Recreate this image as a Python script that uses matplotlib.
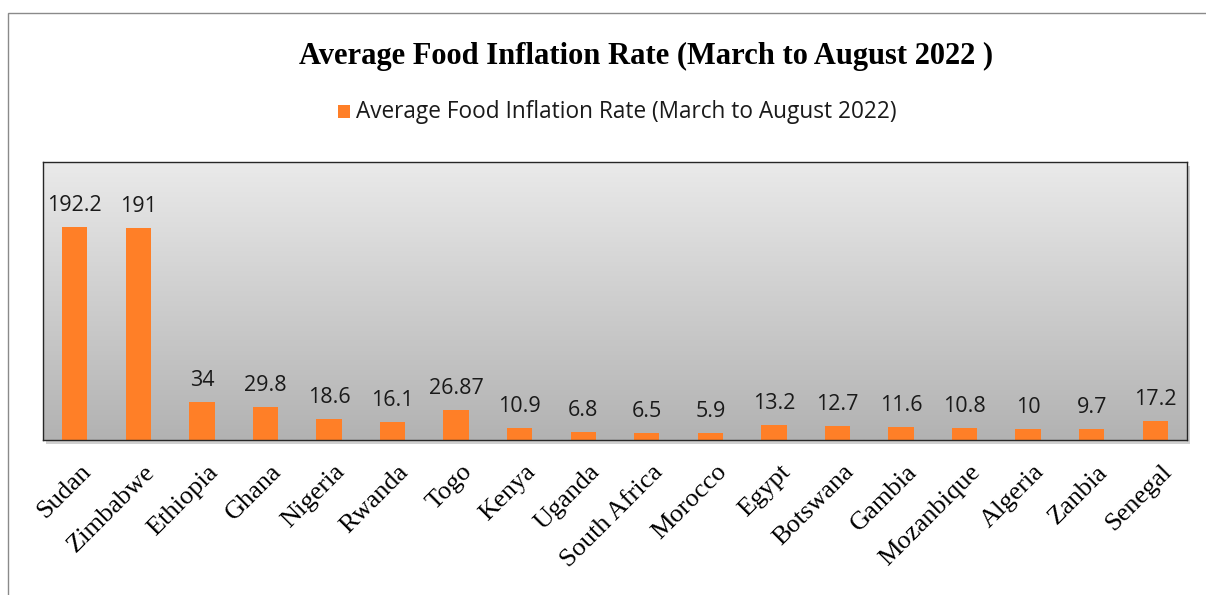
import numpy as np
import matplotlib
matplotlib.use('Agg')
import matplotlib.pyplot as plt
from matplotlib.patches import Rectangle
from matplotlib.transforms import ScaledTranslation

countries = ['Sudan', 'Zimbabwe', 'Ethiopia', 'Ghana', 'Nigeria', 'Rwanda', 'Togo',
             'Kenya', 'Uganda', 'South Africa', 'Morocco', 'Egypt', 'Botswana',
             'Gambia', 'Mozanbique', 'Algeria', 'Zanbia', 'Senegal']
rates = [192.2, 191, 34, 29.8, 18.6, 16.1, 26.87, 10.9, 6.8, 6.5, 5.9, 13.2,
         12.7, 11.6, 10.8, 10, 9.7, 17.2]
rate_labels = ['192.2', '191', '34', '29.8', '18.6', '16.1', '26.87', '10.9', '6.8',
               '6.5', '5.9', '13.2', '12.7', '11.6', '10.8', '10', '9.7', '17.2']
series_name = 'Average Food Inflation Rate (March to August 2022)'
title = 'Average Food Inflation Rate (March to August 2022 )'

W, H = 1206, 595
bar_color = '#ff7f27'

fig = plt.figure(figsize=(W / 100, H / 100), dpi=100)
fig.patch.set_facecolor('white')

# outer frame (only top and left edges visible in the crop)
fig.patches.append(Rectangle((8 / W, -0.1), 1.2, 1 - 13 / H + 0.1,
                             transform=fig.transFigure, fill=False,
                             edgecolor='#8a8a8a', lw=1.0, zorder=-2))

# plot area
left, right, top, bottom = 43, 1187, 162, 440

# drop shadow behind the plot area
fig.patches.append(Rectangle(((left + 3) / W, 1 - (bottom + 4) / H),
                             (right - left) / W, (bottom - top) / H,
                             transform=fig.transFigure, facecolor='#d0d0d0',
                             edgecolor='none', zorder=-1))

ax = fig.add_axes([left / W, 1 - bottom / H, (right - left) / W, (bottom - top) / H])

x = np.arange(len(countries))
ax.set_xlim(-0.5, len(countries) - 0.5)
ax.set_ylim(0, 251)

# vertical gradient background
grad = np.linspace(0, 1, 256).reshape(-1, 1)
top_c = np.array([234, 234, 234]) / 255
bot_c = np.array([178, 178, 178]) / 255
img = top_c * (1 - grad[..., None]) + bot_c * grad[..., None]
img = np.repeat(img, 2, axis=1)
ax.imshow(img, extent=[0, 1, 0, 1], transform=ax.transAxes, aspect='auto', zorder=0)

ax.bar(x, rates, width=0.4, color=bar_color, zorder=2, label=series_name)

for xi, v, lab in zip(x, rates, rate_labels):
    ax.annotate(lab, (xi, v), xytext=(0, 8), textcoords='offset points',
                ha='center', va='bottom', fontsize=15.5, family='Open Sans',
                color='#1a1a1a', zorder=3)

ax.set_xticks(x)
ax.set_xticklabels(countries, rotation=45, ha='right', va='top',
                   rotation_mode='anchor', fontsize=19, family='Liberation Serif')
ax.tick_params(axis='x', length=0, pad=15)
shift = ScaledTranslation(5 / 100, 0, fig.dpi_scale_trans)
for t in ax.get_xticklabels():
    t.set_transform(t.get_transform() + shift)
ax.set_yticks([])
for s in ax.spines.values():
    s.set_color('#262626')
    s.set_linewidth(1.0)

fig.text(646 / W, 1 - 56 / H, title, ha='center', va='center', fontsize=22,
         fontweight='bold', family='Liberation Serif')

# legend
fig.patches.append(Rectangle((338 / W, 1 - 118 / H), 12 / W, 13 / H,
                             transform=fig.transFigure, facecolor=bar_color,
                             edgecolor='none'))
fig.text(356 / W, 1 - 112 / H, series_name, ha='left', va='center',
         fontsize=16.3, family='Open Sans', color='#1a1a1a')

fig.savefig('out.png', dpi=100)
